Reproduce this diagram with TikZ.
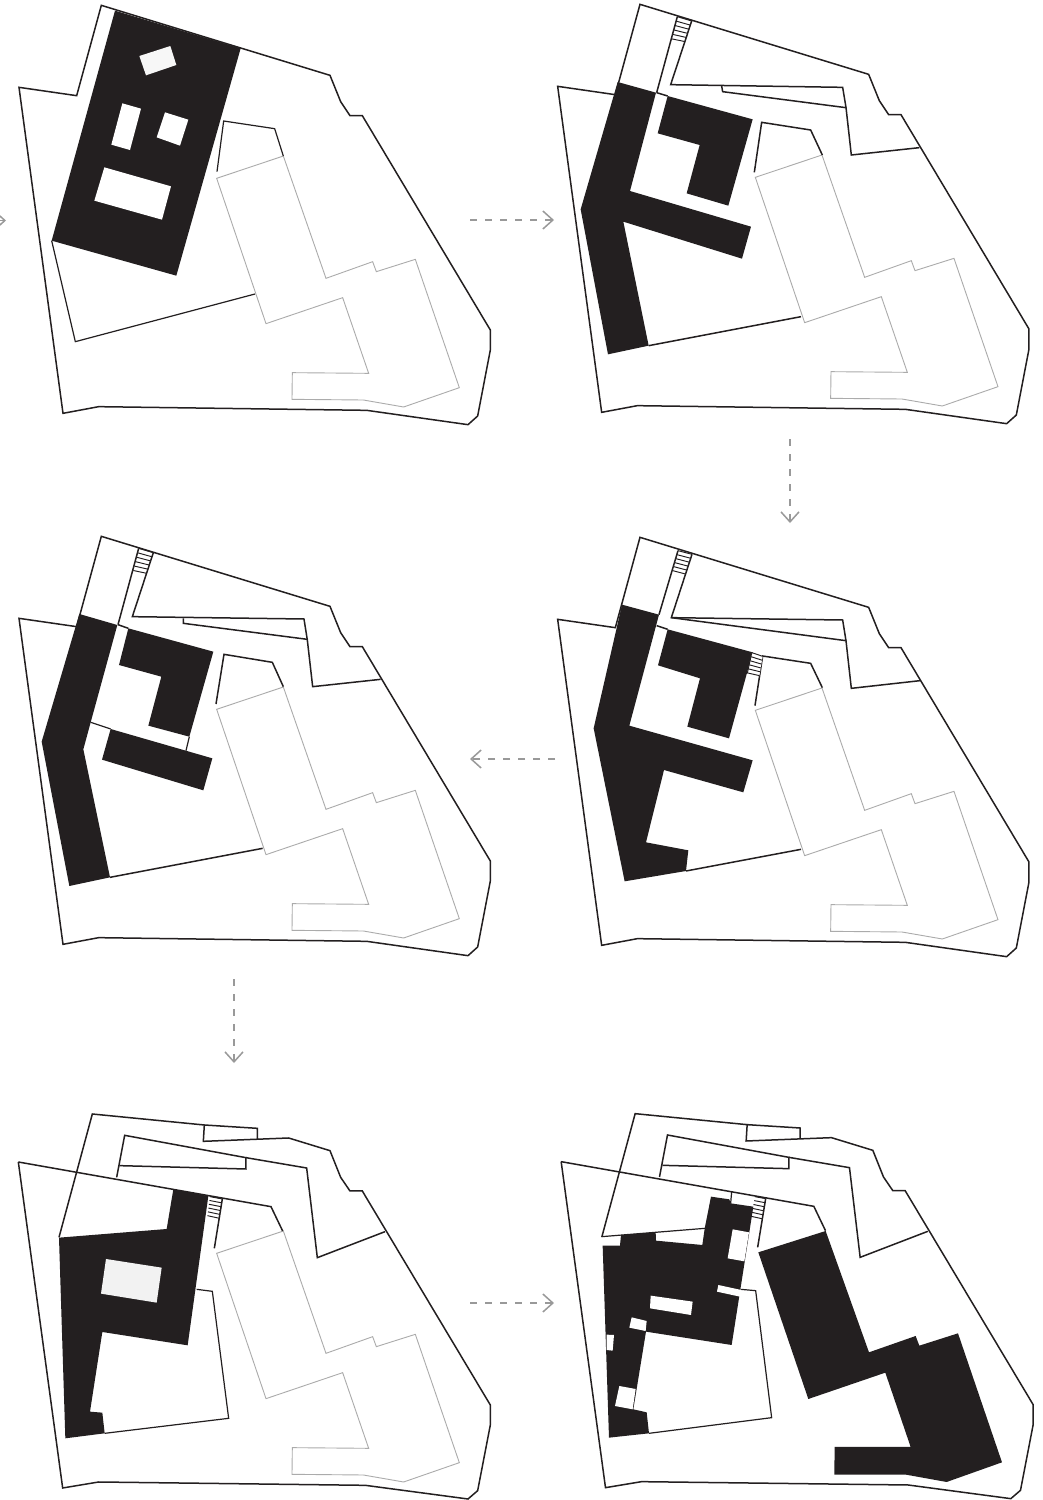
\documentclass[tikz,border=0pt]{standalone}
\usetikzlibrary{arrows.meta,calc}
\definecolor{ink}{HTML}{231F20}
\definecolor{greyln}{HTML}{ABABAB}
\definecolor{dashgrey}{HTML}{999999}
\tikzset{
  panelunit/.style={x=.33333pt,y=-.33333pt},
  siteline/.style={draw=ink,line width=1.5pt,line join=miter},
  thinline/.style={draw=ink,line width=1.2pt,line join=miter},
  hairline/.style={draw=ink,line width=.95pt},
  oldbuilding/.style={draw=greyln,line width=.9pt,line join=miter},
  solidmass/.style={fill=ink,draw=none},
  gap/.style={fill=white,draw=none},
  flowarrow/.style={draw=dashgrey,line width=1.5pt,dash pattern=on 7.3pt off 7.7pt,-{Straight Barb[length=10pt,width=18pt,line width=1.5pt]}}
}
\newcommand{\outerA}{\draw[siteline] (57,262) -- (230,287) -- (304,16) -- (990,226) -- (1022,305) -- (1050,347) -- (1087,347) -- (1471,990) -- (1471,1050) -- (1433,1248) -- (1404,1274) -- (1100,1231) -- (296,1220) -- (189,1240) -- cycle;}
\newcommand{\greyB}{\draw[oldbuilding] (650,535) -- (850,468) -- (978,835) -- (1118,785) -- (1129,815) -- (1246,778) -- (1378,1163) -- (1211,1221) -- (1090,1200) -- (876,1198) -- (877,1118) -- (1106,1120) -- (1028,893) -- (798,971) -- cycle;}
\newcommand{\siteB}{%
  \draw[siteline] (55,186) -- (188,1164) -- (296,1146) -- (1096,1156) -- (1404,1197) -- (1433,1172) -- (1471,975) -- (1471,915) -- (1087,273) -- (1050,273) -- (1022,232) -- (990,152) -- (866,114) -- (610,124) -- (613,75) -- (772,85) -- (772,117);
  \draw[siteline] (613,75) -- (277,42) -- (177,412);
  \draw[siteline] (55,186) -- (813,320) -- (848,393);
  \draw[siteline] (350,232) -- (374,106) -- (738,173) -- (738,207) -- (360,197);
  \draw[siteline] (738,173) -- (920,204) -- (952,473) -- (1155,395);
}
\newcommand{\stairsAt}[4]{%
  \foreach \t in {0,.19,.38,.57,.76,.95}{\draw[hairline] ($(#1)!\t!(#4)$) -- ($(#2)!\t!(#3)$);}
}
\begin{document}
\begin{tikzpicture}
\useasboundingbox (0pt,0pt) rectangle (1042pt,-1500pt);
\fill[white] (0pt,0pt) rectangle (1042pt,-1500pt);

% Panel 1
\begin{scope}[panelunit]
  \greyB
  \outerA
  \draw[thinline] (651,515) -- (671,363) -- (824,386) -- (850,468);
  \draw[thinline] (155,722) -- (226,1025) -- (765,882);
  \fill[solidmass] (345,32) -- (722,145) -- (529,827) -- (155,722) -- cycle;
  \fill[fill=black!3] (418,168) -- (511,138) -- (529,195) -- (438,226) -- cycle;
  \fill[gap] (367,310) -- (423,326) -- (390,450) -- (334,434) -- cycle;
  \fill[gap] (495,337) -- (565,359) -- (540,437) -- (470,412) -- cycle;
  \fill[gap] (313,502) -- (513,559) -- (486,659) -- (283,602) -- cycle;
\end{scope}

% Panel 2
\begin{scope}[panelunit,shift={(1620,0)}]
  \begin{scope}[shift={(-4,-3)}]\greyB\outerA\end{scope}
  \draw[siteline] (350,278) -- (412,50);
  \draw[siteline] (455,63) -- (392,254) -- (908,262) -- (918,322) -- (934,465) -- (1138,443);
  \draw[siteline] (545,258) -- (548,275) -- (918,323);
  \draw[siteline] (350,278) -- (383,288);
  \stairsAt{412,50}{455,63}{434,128}{394,120}
  \draw[siteline] (643,517) -- (665,367) -- (812,390) -- (847,465);
  \draw[siteline] (326,1037) -- (783,950);
  \fill[solidmass] (233,246) -- (348,278) -- (270,573) -- (633,680) -- (606,776) -- (250,665) -- (326,1037) -- (204,1063) -- (122,628) -- cycle;
  \fill[solidmass] (383,288) -- (638,358) -- (565,617) -- (440,580) -- (479,435) -- (353,400) -- cycle;
\end{scope}

% Panel 3
\begin{scope}[panelunit,shift={(0,1590)}]
  \begin{scope}[shift={(0,3)}]\greyB\outerA\end{scope}
  \draw[siteline] (354,284) -- (416,55);
  \draw[siteline] (460,68) -- (397,260) -- (912,267) -- (922,330) -- (938,470) -- (1142,448);
  \draw[siteline] (550,265) -- (550,280) -- (922,328);
  \draw[siteline] (354,284) -- (385,295);
  \stairsAt{416,55}{460,68}{438,133}{399,125}
  \draw[siteline] (648,522) -- (672,373) -- (817,397) -- (850,470);
  \draw[siteline] (330,1042) -- (788,955);
  \draw[thinline] (272,577) -- (332,597);
  \draw[thinline] (568,620) -- (558,662);
  \fill[solidmass] (238,252) -- (352,285) -- (272,577) -- (250,658) -- (330,1042) -- (208,1068) -- (125,635) -- cycle;
  \fill[solidmass] (385,295) -- (640,365) -- (568,620) -- (445,587) -- (484,440) -- (357,405) -- cycle;
  \fill[solidmass] (332,597) -- (637,685) -- (610,781) -- (306,689) -- cycle;
\end{scope}

% Panel 4
\begin{scope}[panelunit,shift={(1620,1590)}]
  \begin{scope}[shift={(-4,6)}]\greyB\outerA\end{scope}
  \draw[siteline] (357,254) -- (414,62);
  \draw[siteline] (456,73) -- (394,263) -- (908,270) -- (918,332) -- (934,475) -- (1140,452);
  \draw[siteline] (394,263) -- (918,332);
  \draw[siteline] (350,287) -- (383,298);
  \stairsAt{414,62}{456,73}{435,135}{397,125}
  \draw[siteline] (645,527) -- (668,378) -- (812,400) -- (847,473);
  \draw[siteline] (438,1023) -- (783,958);
  \fill[solidmass] (246,224) -- (357,254) -- (268,587) -- (638,691) -- (610,787) -- (372,720) -- (318,937) -- (445,961) -- (438,1023) -- (254,1054) -- (161,595) -- cycle;
  \fill[solidmass] (383,298) -- (638,367) -- (567,625) -- (442,590) -- (480,445) -- (354,406) -- cycle;
  \fill[gap] (635,370) -- (668,379) -- (658,438) -- (622,430) -- cycle;
  \draw[hairline] (635,370) -- (622,430);
  \stairsAt{636,368}{668,379}{658,440}{622,432}
\end{scope}

% Panel 5
\begin{scope}[panelunit,shift={(0,3300)}]
  \begin{scope}[shift={(0,-75)}]\greyB\end{scope}
  \siteB
  \draw[siteline] (643,445) -- (667,297);
  \stairsAt{630,290}{667,297}{658,358}{622,350}
  \draw[thinline] (590,568) -- (637,574) -- (686,955) -- (314,1000);
  \fill[solidmass] (520,268) -- (625,288) -- (563,736) -- (307,696) -- (270,935) -- (307,938) -- (314,1000) -- (196,1015) -- (177,413) -- (500,387) -- cycle;
  \fill[fill=black!5] (318,477) -- (485,503) -- (470,608) -- (303,581) -- cycle;
\end{scope}

% Panel 6
\begin{scope}[panelunit,shift={(1620,3300)}]
  \begin{scope}[shift={(8.5,-1)}]\siteB\end{scope}
  \draw[siteline] (653,442) -- (677,296);
  \stairsAt{645,290}{677,296}{668,360}{633,352}
  \draw[thinline] (185,410) -- (495,385);
  \draw[thinline] (575,275) -- (572,310);
  \draw[thinline] (602,568) -- (647,572) -- (695,953) -- (327,1000);
  \fill[solidmass] (188,437) -- (240,437) -- (243,405) -- (347,397) -- (348,422) -- (487,435) -- (494,386) -- (513,290) -- (568,298) -- (572,310) -- (640,320) -- (575,735) -- (318,695) -- (280,928) -- (320,937) -- (327,1000) -- (207,1013) -- cycle;
  \fill[gap] (578,388) -- (627,397) -- (613,484) -- (563,475) -- cycle;
  \fill[gap] (535,555) -- (604,570) -- (600,590) -- (531,575) -- cycle;
  \fill[gap] (332,587) -- (458,605) -- (453,645) -- (330,625) -- cycle;
  \fill[gap] (275,652) -- (320,663) -- (317,693) -- (268,683) -- cycle;
  \fill[gap] (200,704) -- (222,705) -- (218,752) -- (200,750) -- cycle;
  \fill[gap] (238,858) -- (287,867) -- (278,928) -- (225,918) -- cycle;
  \fill[solidmass] (655,457) -- (857,393) -- (987,757) -- (1127,708) -- (1138,737) -- (1254,700) -- (1386,1087) -- (1220,1146) -- (1098,1124) -- (883,1124) -- (884,1041) -- (1112,1041) -- (1036,818) -- (805,897) -- cycle;
\end{scope}

% Arrows between panels
\coordinate (a0s) at (-30pt,-220.5pt); \coordinate (a0e) at (6pt,-220.5pt);
\coordinate (a1s) at (470pt,-220pt); \coordinate (a1e) at (554pt,-220pt);
\coordinate (a2s) at (790pt,-439pt); \coordinate (a2e) at (790pt,-523pt);
\coordinate (a3s) at (555pt,-759pt); \coordinate (a3e) at (470pt,-759pt);
\coordinate (a4s) at (234pt,-979pt); \coordinate (a4e) at (234pt,-1063pt);
\coordinate (a5s) at (470pt,-1303pt); \coordinate (a5e) at (554pt,-1303pt);
\draw[flowarrow] (a0s) -- (a0e);
\draw[flowarrow] (a1s) -- (a1e);
\draw[flowarrow] (a2s) -- (a2e);
\draw[flowarrow] (a3s) -- (a3e);
\draw[flowarrow] (a4s) -- (a4e);
\draw[flowarrow] (a5s) -- (a5e);
\end{tikzpicture}
\end{document}
